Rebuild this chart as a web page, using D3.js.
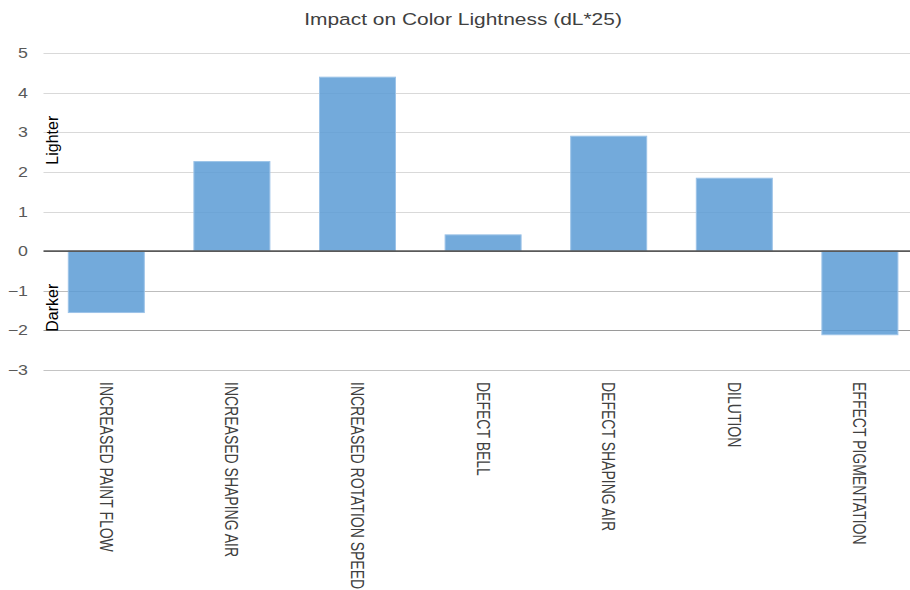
<!DOCTYPE html>
<html>
<head>
<meta charset="utf-8">
<script src="https://cdn.jsdelivr.net/npm/d3@7"></script>
<style>
  html, body { margin: 0; padding: 0; background: #fff; }
  svg { display: block; }
  text { font-family: "Liberation Sans", Arial, sans-serif; }
</style>
</head>
<body>
<script>
const title = "Impact on Color Lightness (dL*25)";
const categories = [
  "INCREASED PAINT FLOW",
  "INCREASED SHAPING AIR",
  "INCREASED ROTATION SPEED",
  "DEFECT BELL",
  "DEFECT SHAPING AIR",
  "DILUTION",
  "EFFECT PIGMENTATION"
];
const values = [-1.55, 2.26, 4.39, 0.41, 2.9, 1.84, -2.11];
const yTicks = [5, 4, 3, 2, 1, 0, -1, -2, -3];
const sideLabels = [{ text: "Lighter", value: 2.8 }, { text: "Darker", value: -1.43 }];

const W = 910, H = 590;
const stretch = 1.27;

const svg = d3.select("body").append("svg")
  .attr("width", W).attr("height", H);

const x = d3.scaleBand()
  .domain(categories)
  .range([43.5, 922.7])
  .paddingInner(0.395)
  .paddingOuter(0.1975);

const y = d3.scaleLinear()
  .domain([-3, 5])
  .range([370, 53]);

// gridlines
const gridColor = v => v === 0 ? "#595959" : v === -1 ? "#bdbdbd" : v === -2 ? "#9a9a9a" : v === -3 ? "#c4c4c4" : "#d9d9d9";
svg.append("g").selectAll("line")
  .data(yTicks.filter(v => v !== 0))
  .join("line")
  .attr("x1", 43.5).attr("x2", W)
  .attr("y1", d => Math.round(y(d)) + 0.5)
  .attr("y2", d => Math.round(y(d)) + 0.5)
  .attr("stroke", gridColor)
  .attr("stroke-width", 1.2);

// bars
svg.append("g").selectAll("rect")
  .data(values)
  .join("rect")
  .attr("x", (d, i) => x(categories[i]))
  .attr("width", x.bandwidth())
  .attr("y", d => y(Math.max(0, d)))
  .attr("height", d => Math.abs(y(d) - y(0)))
  .attr("fill", "#5b9bd5")
  .attr("fill-opacity", 0.85)
  .attr("stroke", "#9cc3e8")
  .attr("stroke-width", 1);

// zero line
svg.append("line")
  .attr("x1", 43.5).attr("x2", W)
  .attr("y1", y(0)).attr("y2", y(0))
  .attr("stroke", "#595959")
  .attr("stroke-width", 1.6);

// y tick labels
svg.append("g").selectAll("text")
  .data(yTicks)
  .join("text")
  .attr("transform", d => `translate(28,${y(d)}) scale(${stretch},1)`)
  .attr("dy", "0.36em")
  .attr("text-anchor", "end")
  .attr("font-size", 14)
  .attr("fill", "#595959")
  .text(d => d3.format("")(d).replace("-", "\u2212"));

// category labels
svg.append("g").selectAll("text")
  .data(categories)
  .join("text")
  .attr("transform", d => `translate(${x(d) + x.bandwidth() / 2},382) rotate(90) scale(1,${stretch})`)
  .attr("dy", "0.36em")
  .attr("text-anchor", "start")
  .attr("font-size", 14)
  .attr("fill", "#404040")
  .text(d => d);

// side labels
svg.append("g").selectAll("text")
  .data(sideLabels)
  .join("text")
  .attr("transform", d => `translate(58,${y(d.value)}) rotate(-90)`)
  .attr("text-anchor", "middle")
  .attr("font-size", 16)
  .attr("fill", "#000")
  .text(d => d.text);

// title
svg.append("text")
  .attr("transform", `translate(463,25) scale(${stretch},1)`)
  .attr("text-anchor", "middle")
  .attr("font-size", 16.5)
  .attr("fill", "#404040")
  .text(title);
</script>
</body>
</html>
